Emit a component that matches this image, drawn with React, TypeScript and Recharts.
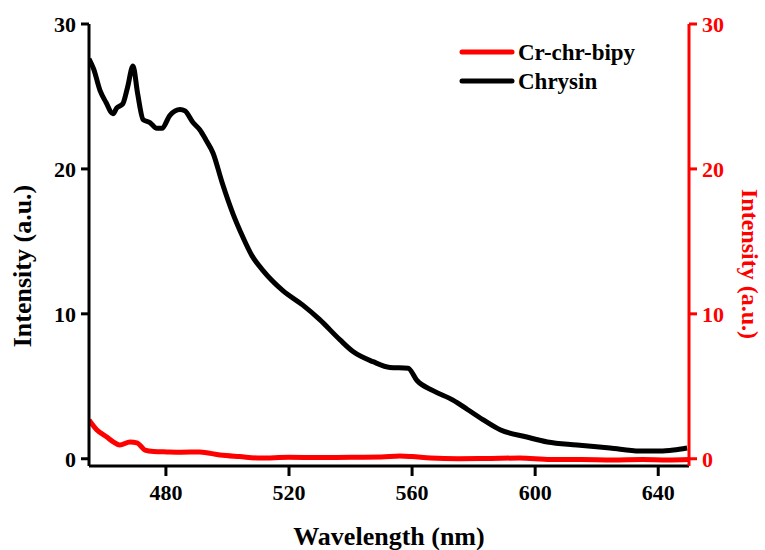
import React from "react";
import { LineChart, Line, XAxis, YAxis, Label } from "recharts";

const FONT = "'Liberation Serif', 'Times New Roman', serif";

const chrysinWavelength = [455, 456.5, 458.6, 460.5, 462.8, 464, 466, 467.5, 469.3, 470.8, 472.6, 474.8, 477, 478.7, 481.3, 484.6, 486.2, 488.8, 491, 493, 495.3, 498.2, 501.8, 505, 508, 511.5, 518, 524.5, 530, 536.6, 540.8, 547.3, 552.8, 558.7, 561.6, 566.8, 573.3, 578, 583, 588.6, 597.3, 604, 613.6, 624.3, 634, 640.6, 645, 649.4];
const chrysinIntensity = [27.6, 26.9, 25.4, 24.6, 23.8, 24.2, 24.5, 25.6, 27.1, 25.2, 23.4, 23.2, 22.8, 22.8, 23.7, 24.1, 24.0, 23.2, 22.7, 22.0, 21.1, 19.1, 16.9, 15.3, 14.0, 13.0, 11.6, 10.6, 9.6, 8.2, 7.4, 6.7, 6.3, 6.25, 5.4, 4.7, 4.05, 3.4, 2.7, 2.0, 1.5, 1.16, 0.95, 0.74, 0.53, 0.53, 0.6, 0.74];

const crWavelength = [455, 457.5, 460.8, 463, 465, 468.3, 470.6, 473.2, 476, 480.3, 485, 491, 497.6, 504, 510.6, 520, 530, 540, 550, 556, 560, 566, 575, 585, 595, 605, 615, 625, 635, 643, 650];
const crIntensity = [2.67, 2.0, 1.5, 1.15, 0.95, 1.16, 1.1, 0.6, 0.5, 0.47, 0.45, 0.47, 0.26, 0.15, 0.05, 0.1, 0.08, 0.1, 0.12, 0.19, 0.15, 0.05, 0.0, 0.02, 0.05, -0.05, -0.05, -0.08, -0.05, -0.08, -0.05];

const xTicks = [480, 520, 560, 600, 640];
const yTicks = [0, 10, 20, 30];

const seriesNames = ["Cr-chr-bipy", "Chrysin"];
const seriesColors = ["#ff0000", "#000000"];

const chrysinData = chrysinWavelength.map((x, i) => ({ x, y: chrysinIntensity[i] }));
const crData = crWavelength.map((x, i) => ({ x, y: crIntensity[i] }));

const tickStyle = (fill: string) => ({ fill, fontFamily: FONT, fontWeight: "bold", fontSize: 22 });

const LeftTitle = (props: any) => {
  const vb = props.viewBox || { x: 0, y: 0, width: 0, height: 0 };
  const x = vb.x + 31;
  const y = vb.y + vb.height / 2 + 21;
  return (
    <text x={x} y={y} transform={`rotate(-90 ${x} ${y})`} textAnchor="middle" fontFamily={FONT} fontWeight="bold" fontSize={26} fill="#000">
      Intensity (a.u.)
    </text>
  );
};

const RightTitle = (props: any) => {
  const vb = props.viewBox || { x: 0, y: 0, width: 0, height: 0 };
  const x = vb.x + vb.width - 23;
  const y = vb.y + vb.height / 2 + 19;
  return (
    <text x={x} y={y} transform={`rotate(90 ${x} ${y})`} textAnchor="middle" fontFamily={FONT} fontWeight="bold" fontSize={24} fill="#ff0000">
      Intensity (a.u.)
    </text>
  );
};

const BottomTitle = (props: any) => {
  const vb = props.viewBox || { x: 0, y: 0, width: 0, height: 0 };
  const x = vb.x + vb.width / 2;
  const y = vb.y + 79;
  return (
    <text x={x} y={y} textAnchor="middle" fontFamily={FONT} fontWeight="bold" fontSize={26} fill="#000">
      Wavelength (nm)
    </text>
  );
};

const LegendBox = () => (
  <svg width={220} height={70} style={{ position: "absolute", left: 455, top: 38 }}>
    {seriesNames.map((name, i) => (
      <g key={name}>
        <line x1={7} y1={14 + i * 29} x2={57} y2={14 + i * 29} stroke={seriesColors[i]} strokeWidth={5} strokeLinecap="round" />
        <text x={63} y={22 + i * 29} fontFamily={FONT} fontWeight="bold" fontSize={23} fill="#000">{name}</text>
      </g>
    ))}
  </svg>
);

export default function App() {
  return (
    <div style={{ position: "absolute", left: 0, top: 0, width: 765, height: 550, background: "#fff" }}>
      <LineChart width={765} height={550} margin={{ top: 24, right: 0, bottom: 0, left: 0 }}>
        <XAxis
          xAxisId="x"
          type="number"
          dataKey="x"
          domain={[455, 650]}
          ticks={xTicks}
          allowDataOverflow
          height={84}
          axisLine={{ stroke: "#000", strokeWidth: 3 }}
          tickLine={{ stroke: "#000", strokeWidth: 3 }}
          tickSize={10}
          tickMargin={8}
          tick={tickStyle("#000")}
        >
          <Label content={<BottomTitle />} />
        </XAxis>
        <YAxis
          yAxisId="left"
          orientation="left"
          type="number"
          domain={[-0.5, 30]}
          ticks={yTicks}
          allowDataOverflow
          width={89}
          axisLine={{ stroke: "#000", strokeWidth: 3 }}
          tickLine={{ stroke: "#000", strokeWidth: 3 }}
          tickSize={8}
          tickMargin={5}
          tick={tickStyle("#000")}
        >
          <Label content={<LeftTitle />} />
        </YAxis>
        <YAxis
          yAxisId="right"
          orientation="right"
          type="number"
          domain={[-0.5, 30]}
          ticks={yTicks}
          allowDataOverflow
          width={76}
          axisLine={{ stroke: "#ff0000", strokeWidth: 3 }}
          tickLine={{ stroke: "#ff0000", strokeWidth: 3 }}
          tickSize={8}
          tickMargin={5}
          tick={tickStyle("#ff0000")}
        >
          <Label content={<RightTitle />} />
        </YAxis>
        <Line
          xAxisId="x"
          yAxisId="right"
          data={crData}
          dataKey="y"
          name={seriesNames[0]}
          type="monotone"
          stroke={seriesColors[0]}
          strokeWidth={5}
          dot={false}
          isAnimationActive={false}
        />
        <Line
          xAxisId="x"
          yAxisId="left"
          data={chrysinData}
          dataKey="y"
          name={seriesNames[1]}
          type="monotone"
          stroke={seriesColors[1]}
          strokeWidth={5}
          dot={false}
          isAnimationActive={false}
        />
      </LineChart>
      <LegendBox />
    </div>
  );
}
